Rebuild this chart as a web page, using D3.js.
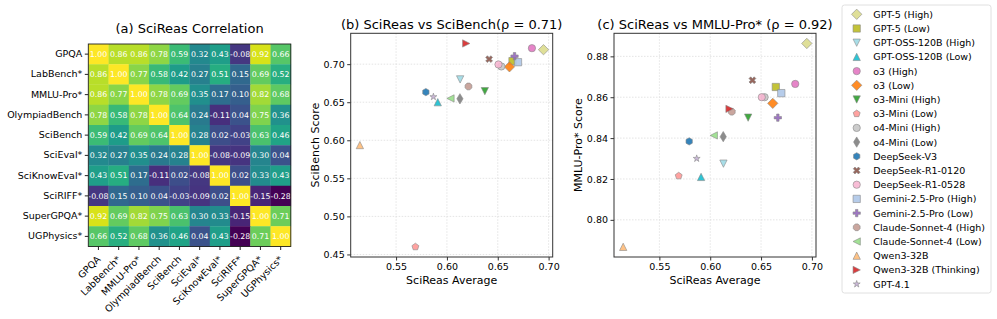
<!DOCTYPE html>
<html>
<head>
<meta charset="utf-8">
<script src="https://cdn.jsdelivr.net/npm/d3@7"></script>
<style>
  body { margin: 0; background: #fff; }
  svg { display: block; font-family: "DejaVu Sans", sans-serif; }
  .grid line { stroke: #dddddd; stroke-dasharray: 1.5,1.5; stroke-width: 0.8; }
</style>
</head>
<body>
<div id="chart"></div>
<script>
// benchmarks in the correlation matrix
const benches = ['GPQA', 'LabBench*', 'MMLU-Pro*', 'OlympiadBench', 'SciBench', 'SciEval*', 'SciKnowEval*', 'SciRIFF*', 'SuperGPQA*', 'UGPhysics*']
const corr = [
  [1.00, 0.86, 0.86, 0.78, 0.59, 0.32, 0.43, -0.08, 0.92, 0.66],
  [0.86, 1.00, 0.77, 0.58, 0.42, 0.27, 0.51, 0.15, 0.69, 0.52],
  [0.86, 0.77, 1.00, 0.78, 0.69, 0.35, 0.17, 0.10, 0.82, 0.68],
  [0.78, 0.58, 0.78, 1.00, 0.64, 0.24, -0.11, 0.04, 0.75, 0.36],
  [0.59, 0.42, 0.69, 0.64, 1.00, 0.28, 0.02, -0.03, 0.63, 0.46],
  [0.32, 0.27, 0.35, 0.24, 0.28, 1.00, -0.08, -0.09, 0.30, 0.04],
  [0.43, 0.51, 0.17, -0.11, 0.02, -0.08, 1.00, 0.02, 0.33, 0.43],
  [-0.08, 0.15, 0.10, 0.04, -0.03, -0.09, 0.02, 1.00, -0.15, -0.28],
  [0.92, 0.69, 0.82, 0.75, 0.63, 0.30, 0.33, -0.15, 1.00, 0.71],
  [0.66, 0.52, 0.68, 0.36, 0.46, 0.04, 0.43, -0.28, 0.71, 1.00]
]

// models (legend order), marker and colour
const models = ['GPT-5 (High)', 'GPT-5 (Low)', 'GPT-OSS-120B (High)', 'GPT-OSS-120B (Low)', 'o3 (High)', 'o3 (Low)',
  'o3-Mini (High)', 'o3-Mini (Low)', 'o4-Mini (High)', 'o4-Mini (Low)', 'DeepSeek-V3', 'DeepSeek-R1-0120',
  'DeepSeek-R1-0528', 'Gemini-2.5-Pro (High)', 'Gemini-2.5-Pro (Low)', 'Claude-Sonnet-4 (High)',
  'Claude-Sonnet-4 (Low)', 'Qwen3-32B', 'Qwen3-32B (Thinking)', 'GPT-4.1']
const markers = ['D', 's', 'v', '^', 'o', 'D', 'v', 'p', 'o', 'd', 'h', 'X', 'o', 's', 'P', '8', '<', '^', '>', '*']
const colors = ['#dbdb8d', '#bcbd22', '#9edae5', '#17becf', '#e377c2', '#ff7f0e', '#2ca02c', '#ff9896', '#c7c7c7', '#7f7f7f',
  '#1f77b4', '#8c564b', '#f7b6d2', '#aec7e8', '#9467bd', '#c49c94', '#98df8a', '#ffbb78', '#d62728', '#c5b0d5']

// scores per model
const sciReasAvg = [0.695, 0.6645, 0.613, 0.591, 0.6836, 0.6615, 0.6373, 0.569, 0.6535, 0.6128,
  0.5793, 0.6415, 0.6507, 0.6699, 0.6665, 0.6212, 0.6035, 0.5144, 0.619, 0.5867]
const sciBench = [0.719, 0.704, 0.680, 0.650, 0.721, 0.6965, 0.6645, 0.460, 0.697, 0.6545,
  0.6633, 0.7066, 0.6996, 0.7026, 0.7105, 0.6707, 0.655, 0.5937, 0.7272, 0.6571]
const mmluPro = [0.8863, 0.865, 0.8275, 0.821, 0.8665, 0.857, 0.850, 0.8215, 0.860, 0.8407,
  0.8384, 0.8683, 0.860, 0.862, 0.850, 0.8529, 0.8413, 0.7868, 0.8543, 0.830]

const xTicks = [0.55, 0.60, 0.65, 0.70]
const bTicks = [0.45, 0.50, 0.55, 0.60, 0.65, 0.70]
const cTicks = [0.80, 0.82, 0.84, 0.86, 0.88]

const w = 997
const h = 319
const svg = d3.select('#chart').append('svg').attr('width', w).attr('height', h)

// marker paths, m = marker size (circle diameter) like matplotlib
function poly(n, r, rot) {
  let pts = []
  for (let i = 0; i < n; i++) {
    let a = rot + i * 2 * Math.PI / n
    pts.push([r * Math.sin(a), -r * Math.cos(a)])
  }
  return pts
}
function markerPath(k, m) {
  let hm = m / 2
  let pts
  if (k == 'o') {
    return 'M' + hm + ',0A' + hm + ',' + hm + ' 0 1,1 ' + (-hm) + ',0A' + hm + ',' + hm + ' 0 1,1 ' + hm + ',0Z'
  }
  if (k == 's') pts = [[-hm, -hm], [hm, -hm], [hm, hm], [-hm, hm]]
  if (k == 'D') pts = poly(4, hm * 1.414, 0)
  if (k == 'd') pts = poly(4, hm * 1.414, 0).map(p => [p[0] * 0.6, p[1]])
  if (k == '^') pts = [[0, -hm], [hm, hm], [-hm, hm]]
  if (k == 'v') pts = [[0, hm], [hm, -hm], [-hm, -hm]]
  if (k == '<') pts = [[-hm, 0], [hm, -hm], [hm, hm]]
  if (k == '>') pts = [[hm, 0], [-hm, -hm], [-hm, hm]]
  if (k == 'p') pts = poly(5, hm, 0)
  if (k == 'h') pts = poly(6, hm, 0)
  if (k == '8') pts = poly(8, hm, Math.PI / 8)
  if (k == '*') {
    pts = []
    for (let i = 0; i < 10; i++) {
      let r = i % 2 == 0 ? hm : hm * 0.382
      let a = i * Math.PI / 5
      pts.push([r * Math.sin(a), -r * Math.cos(a)])
    }
  }
  if (k == 'P' || k == 'X') {
    let u = hm / 3
    pts = [[-u, -3 * u], [u, -3 * u], [u, -u], [3 * u, -u], [3 * u, u], [u, u], [u, 3 * u], [-u, 3 * u], [-u, u], [-3 * u, u], [-3 * u, -u], [-u, -u]]
    if (k == 'X') {
      let c = Math.SQRT1_2
      pts = pts.map(p => [(p[0] - p[1]) * c, (p[0] + p[1]) * c])
    }
  }
  return 'M' + pts.map(p => p[0].toFixed(2) + ',' + p[1].toFixed(2)).join('L') + 'Z'
}

// ---------- (a) heatmap ----------
const hx = 88.3, hy = 44, hs = 202.5
const band = d3.scaleBand().domain(benches).range([0, hs])
const allVals = corr.flat()
const color = d3.scaleSequential(d3.interpolateViridis).domain([d3.min(allVals), d3.max(allVals)])

const hm = svg.append('g').attr('transform', 'translate(' + hx + ',' + hy + ')')
corr.forEach((row, i) => {
  hm.selectAll('.r' + i)
    .data(row)
    .enter()
    .append('rect')
    .attr('x', (d, j) => band(benches[j]))
    .attr('y', band(benches[i]))
    .attr('width', band.bandwidth() + 0.3)
    .attr('height', band.bandwidth() + 0.3)
    .attr('fill', d => color(d))
  hm.selectAll('.t' + i)
    .data(row)
    .enter()
    .append('text')
    .attr('x', (d, j) => band(benches[j]) + band.bandwidth() / 2)
    .attr('y', band(benches[i]) + band.bandwidth() / 2 + 2.8)
    .attr('text-anchor', 'middle')
    .attr('font-size', 7.8)
    .attr('fill', 'white')
    .text(d => d.toFixed(2))
})
hm.append('rect').attr('width', hs).attr('height', hs).attr('fill', 'none').attr('stroke', '#222').attr('stroke-width', 0.9)

const hyA = d3.axisLeft(band).tickSize(3.5).tickPadding(2.5)
hm.append('g').call(hyA).call(g => g.select('.domain').remove())
  .selectAll('text').attr('font-size', 9.5).attr('fill', '#000').attr('font-family', 'DejaVu Sans')
const hxA = d3.axisBottom(band).tickSize(3.5)
hm.append('g').attr('transform', 'translate(0,' + hs + ')').call(hxA)
  .call(g => g.select('.domain').remove())
  .selectAll('text')
  .attr('font-size', 9.5).attr('fill', '#000').attr('font-family', 'DejaVu Sans')
  .attr('text-anchor', 'end')
  .attr('dy', 0)
  .attr('transform', 'translate(2.6,13.3) rotate(-45)')
  .attr('y', 0)
hm.selectAll('.tick line').attr('stroke', '#222')

svg.append('text').attr('x', hx + hs / 2).attr('y', 32.5).attr('text-anchor', 'middle')
  .attr('font-size', 13).text('(a) SciReas Correlation')

// ---------- scatter panels ----------
function padded(vals) {
  let lo = d3.min(vals), hi = d3.max(vals), r = hi - lo
  return [lo - 0.05 * r, hi + 0.05 * r]
}

function scatter(left, right, yv, yTicks, title, ylab) {
  const top = 33.3, bottom = 257
  const xS = d3.scaleLinear().domain(padded(sciReasAvg)).range([left, right])
  const yS = d3.scaleLinear().domain(padded(yv)).range([bottom, top])

  const g = svg.append('g')
  g.append('g').attr('class', 'grid')
    .selectAll('line').data(xTicks).enter().append('line')
    .attr('x1', d => xS(d)).attr('x2', d => xS(d)).attr('y1', top).attr('y2', bottom)
  g.append('g').attr('class', 'grid')
    .selectAll('line').data(yTicks).enter().append('line')
    .attr('y1', d => yS(d)).attr('y2', d => yS(d)).attr('x1', left).attr('x2', right)

  const xA = d3.axisBottom(xS).tickValues(xTicks).tickFormat(d3.format('.2f')).tickSize(3.5).tickPadding(2.5)
  const yA = d3.axisLeft(yS).tickValues(yTicks).tickFormat(d3.format('.2f')).tickSize(3.5).tickPadding(2.5)
  g.append('g').attr('transform', 'translate(0,' + bottom + ')').call(xA)
    .call(a => a.select('.domain').remove())
    .selectAll('text').attr('font-size', 9.5).attr('fill', '#000').attr('font-family', 'DejaVu Sans')
  g.append('g').attr('transform', 'translate(' + left + ',0)').call(yA)
    .call(a => a.select('.domain').remove())
    .selectAll('text').attr('font-size', 9.5).attr('fill', '#000').attr('font-family', 'DejaVu Sans')
  g.selectAll('.tick line').attr('stroke', '#333')

  g.append('rect').attr('x', left).attr('y', top).attr('width', right - left).attr('height', bottom - top)
    .attr('fill', 'none').attr('stroke', '#333').attr('stroke-width', 1)

  g.selectAll('.pt')
    .data(models)
    .enter()
    .append('path')
    .attr('d', (d, i) => markerPath(markers[i], 7.3))
    .attr('transform', (d, i) => 'translate(' + xS(sciReasAvg[i]) + ',' + yS(yv[i]) + ')')
    .attr('fill', (d, i) => colors[i])
    .attr('fill-opacity', 0.9)
    .attr('stroke', '#888')
    .attr('stroke-width', 0.6)

  svg.append('text').attr('x', (left + right) / 2).attr('y', 29).attr('text-anchor', 'middle')
    .attr('font-size', 13).text(title)
  svg.append('text').attr('x', (left + right) / 2).attr('y', 284).attr('text-anchor', 'middle')
    .attr('font-size', 11).text('SciReas Average')
  svg.append('text').attr('transform', 'translate(' + (left - 32) + ',' + ((top + bottom) / 2) + ') rotate(-90)')
    .attr('text-anchor', 'middle').attr('font-size', 11).text(ylab)
}

scatter(350.7, 552.7, sciBench, bTicks, '(b) SciReas vs SciBench(\u03c1 = 0.71)', 'SciBench Score')
scatter(614, 816, mmluPro, cTicks, '(c) SciReas vs MMLU-Pro* (\u03c1 = 0.92)', 'MMLU-Pro* Score')

// ---------- legend ----------
const leg = svg.append('g')
leg.append('rect').attr('x', 842).attr('y', 5).attr('width', 149).attr('height', 288)
  .attr('rx', 2.5).attr('fill', 'white').attr('fill-opacity', 0.8).attr('stroke', '#d8d8d8').attr('stroke-width', 0.8)
const rows = leg.selectAll('.row')
  .data(models)
  .enter()
  .append('g')
  .attr('transform', (d, i) => 'translate(856.7,' + (14.3 + i * 14.2) + ')')
rows.append('path')
  .attr('d', (d, i) => markerPath(markers[i], 7.3))
  .attr('fill', (d, i) => colors[i])
  .attr('fill-opacity', 0.9)
  .attr('stroke', '#888')
  .attr('stroke-width', 0.6)
rows.append('text')
  .attr('x', 16.6)
  .attr('y', 3.4)
  .attr('font-size', 9.5)
  .text(d => d)
</script>
</body>
</html>
